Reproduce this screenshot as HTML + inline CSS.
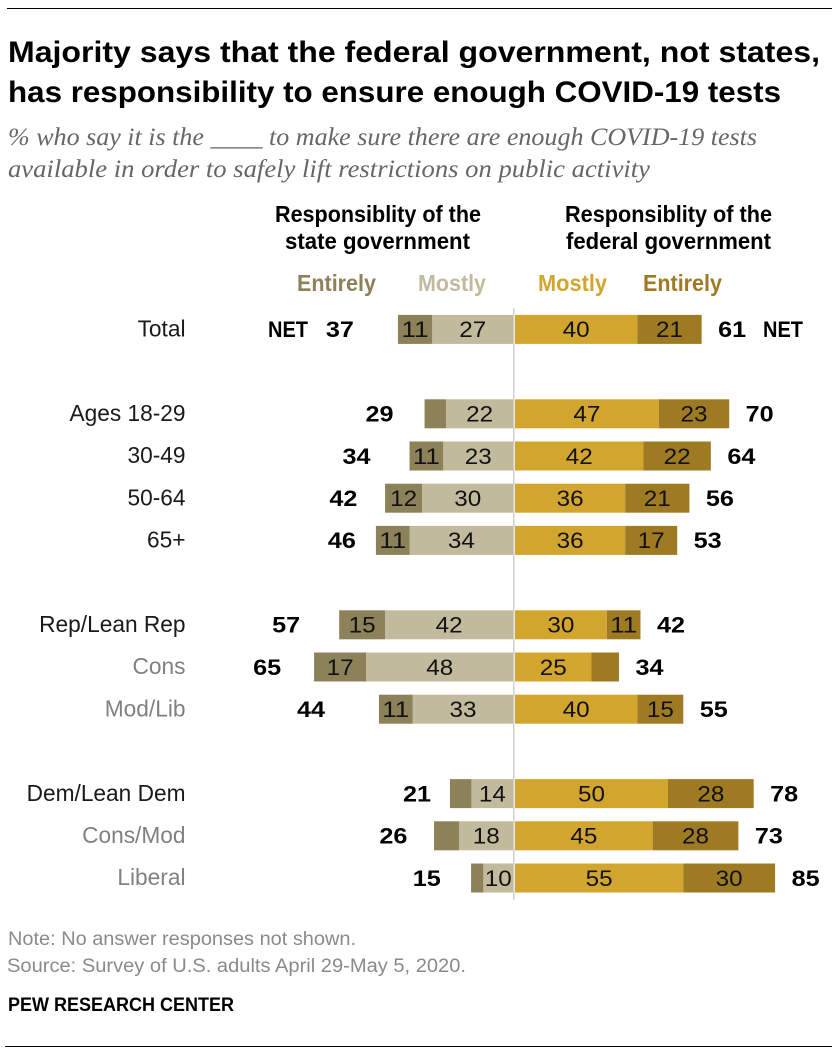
<!DOCTYPE html>
<html lang="en">
<head>
<meta charset="utf-8">
<title>Majority says that the federal government has responsibility for COVID-19 tests</title>
<style>
html,body{margin:0;padding:0;background:#fff;}
svg{display:block;}
text{font-family:"Liberation Sans",sans-serif;}
.title{font-weight:700;font-size:30px;fill:#000;}
.sub{font-family:"Liberation Serif",serif;font-style:italic;font-size:25px;fill:#666;}
.head{font-weight:700;font-size:23px;fill:#000;}
.legend{font-weight:700;font-size:23px;}
.foot{font-size:19px;fill:#8a8a8a;}
.pew{font-weight:700;font-size:19px;fill:#000;}
.row{font-size:22.7px;}
.val{font-size:22px;fill:#111;}
.net{font-size:22.5px;font-weight:700;fill:#000;}
</style>
</head>
<body>
<svg id="chart" width="840" height="1056" viewBox="0 0 840 1056" xmlns="http://www.w3.org/2000/svg">
  <rect x="0" y="0" width="840" height="1056" fill="#fff"/>
  <rect x="7" y="8" width="825" height="1" fill="#000"/>
  <text class="title" x="8" y="62" textLength="812" lengthAdjust="spacingAndGlyphs">Majority says that the federal government, not states,</text>
  <text class="title" x="8" y="102" textLength="773" lengthAdjust="spacingAndGlyphs">has responsibility to ensure enough COVID-19 tests</text>
  <text class="sub" x="8" y="145" textLength="749" lengthAdjust="spacingAndGlyphs">% who say it is the ____ to make sure there are enough COVID-19 tests</text>
  <text class="sub" x="8" y="177" textLength="642" lengthAdjust="spacingAndGlyphs">available in order to safely lift restrictions on public activity</text>

  <text class="head" x="275" y="222" textLength="206" lengthAdjust="spacingAndGlyphs">Responsiblity of the</text>
  <text class="head" x="285" y="249" textLength="185" lengthAdjust="spacingAndGlyphs">state government</text>
  <text class="head" x="565" y="222" textLength="207" lengthAdjust="spacingAndGlyphs">Responsiblity of the</text>
  <text class="head" x="566" y="249" textLength="205" lengthAdjust="spacingAndGlyphs">federal government</text>

  <text class="legend" x="297" y="291" fill="#8c8158" textLength="79" lengthAdjust="spacingAndGlyphs">Entirely</text>
  <text class="legend" x="418" y="291" fill="#c2ba9c" textLength="68" lengthAdjust="spacingAndGlyphs">Mostly</text>
  <text class="legend" x="538" y="291" fill="#d2a52e" textLength="69" lengthAdjust="spacingAndGlyphs">Mostly</text>
  <text class="legend" x="643" y="291" fill="#9e7b22" textLength="79" lengthAdjust="spacingAndGlyphs">Entirely</text>

  <text class="net" x="268" y="337" textLength="40" lengthAdjust="spacingAndGlyphs">NET</text>
  <text class="net" x="763" y="337" textLength="40" lengthAdjust="spacingAndGlyphs">NET</text>

  <g id="marks"></g>
  <rect x="513" y="308" width="1.6" height="592" fill="#d2d2d2"/>
  <g id="labels"></g>

  <text class="foot" x="8" y="945" textLength="348" lengthAdjust="spacingAndGlyphs">Note: No answer responses not shown.</text>
  <text class="foot" x="7" y="972" textLength="459" lengthAdjust="spacingAndGlyphs">Source: Survey of U.S. adults April 29-May 5, 2020.</text>
  <text class="pew" x="8" y="1011" textLength="226" lengthAdjust="spacingAndGlyphs">PEW RESEARCH CENTER</text>
  <rect x="5" y="1046" width="827" height="1" fill="#000"/>
</svg>
<script>
const categories = ["Total","Ages 18-29","30-49","50-64","65+","Rep/Lean Rep","Cons","Mod/Lib","Dem/Lean Dem","Cons/Mod","Liberal"];
const rowGroups = [0,1,1,1,1,2,2,2,3,3,3];
const mutedRows = [false,false,false,false,false,false,true,true,false,true,true];
const stateEntirely = [11.2,7,11,12.1,11,15,17,11,7,8.2,4];
const stateMostly = [26.5,22,22.9,29.8,33.9,41.9,48.1,32.9,13.7,17.7,9.8];
const federalMostly = [40,47,42,36,36,30,25,40,50,45,55];
const federalEntirely = [21,23,22,21,17,11,9,15,28,28,30];
const stateNet = [37,29,34,42,46,57,65,44,21,26,15];
const federalNet = [61,70,64,56,53,42,34,55,78,73,85];
const stateNetGap = [44,31,39,27.7,20,39,33,54,19,26.7,30.3];

const UNIT = 3.06, LEFT_ZERO = 513.3, RIGHT_ZERO = 515, ROW_TOP = 329.4, ROW_PITCH = 42.2, BAR_H = 29, MIN_LABEL = 10;
const NS = "http://www.w3.org/2000/svg";
const marks = document.getElementById("marks");
const labels = document.getElementById("labels");
const xLeft = v => LEFT_ZERO - v * UNIT;
const xRight = v => RIGHT_ZERO + v * UNIT;
const yRow = i => ROW_TOP + ROW_PITCH * (i + rowGroups[i]);
const slug = s => s.toLowerCase().replace(/[^a-z0-9]+/g, "-");

function addBar(x0, x1, i, fill, name) {
  const r = document.createElementNS(NS, "rect");
  r.setAttribute("x", Math.min(x0, x1));
  r.setAttribute("y", yRow(i) - BAR_H / 2);
  r.setAttribute("width", Math.abs(x1 - x0));
  r.setAttribute("height", BAR_H);
  r.setAttribute("fill", fill);
  
  
  marks.appendChild(r);
}
function addText(str, x, y, cls, anchor, fill, width, name) {
  const t = document.createElementNS(NS, "text");
  t.setAttribute("x", x);
  t.setAttribute("y", y);
  t.setAttribute("class", cls);
  t.setAttribute("text-anchor", anchor);
  if (fill) t.setAttribute("fill", fill);
  if (width) {
    t.setAttribute("textLength", width);
    t.setAttribute("lengthAdjust", "spacingAndGlyphs");
  }
  
  
  t.textContent = str;
  labels.appendChild(t);
}
function addValue(v, x0, x1, i, name) {
  const shown = Math.round(v);
  if (shown < MIN_LABEL) return;
  addText(String(shown), (x0 + x1) / 2, yRow(i) + 7.8, "val", "middle", null, 27, name);
}
categories.forEach((cat, i) => {
  const s = slug(cat);
  const a = xLeft(stateMostly[i]);
  const b = xLeft(stateMostly[i] + stateEntirely[i]);
  const c = xRight(federalMostly[i]);
  const d = xRight(federalMostly[i] + federalEntirely[i]);
  addBar(LEFT_ZERO, a, i, "#c2ba9c", "bar-state-mostly-" + s);
  addBar(a, b, i, "#8c8158", "bar-state-entirely-" + s);
  addBar(RIGHT_ZERO, c, i, "#d2a52e", "bar-federal-mostly-" + s);
  addBar(c, d, i, "#9e7b22", "bar-federal-entirely-" + s);
  addText(cat, 185.5, yRow(i) + 7.2, "row", "end", mutedRows[i] ? "#808080" : "#1a1a1a", null, "row-label-" + s);
  addValue(stateEntirely[i], a, b, i, "value-state-entirely-" + s);
  addValue(stateMostly[i], LEFT_ZERO, a, i, "value-state-mostly-" + s);
  addValue(federalMostly[i], RIGHT_ZERO, c, i, "value-federal-mostly-" + s);
  addValue(federalEntirely[i], c, d, i, "value-federal-entirely-" + s);
  addText(String(stateNet[i]), b - stateNetGap[i], yRow(i) + 7.8, "net", "end", null, 28, "net-state-" + s);
  addText(String(federalNet[i]), d + 16.5, yRow(i) + 7.8, "net", "start", null, 28, "net-federal-" + s);
});
</script>
</body>
</html>
